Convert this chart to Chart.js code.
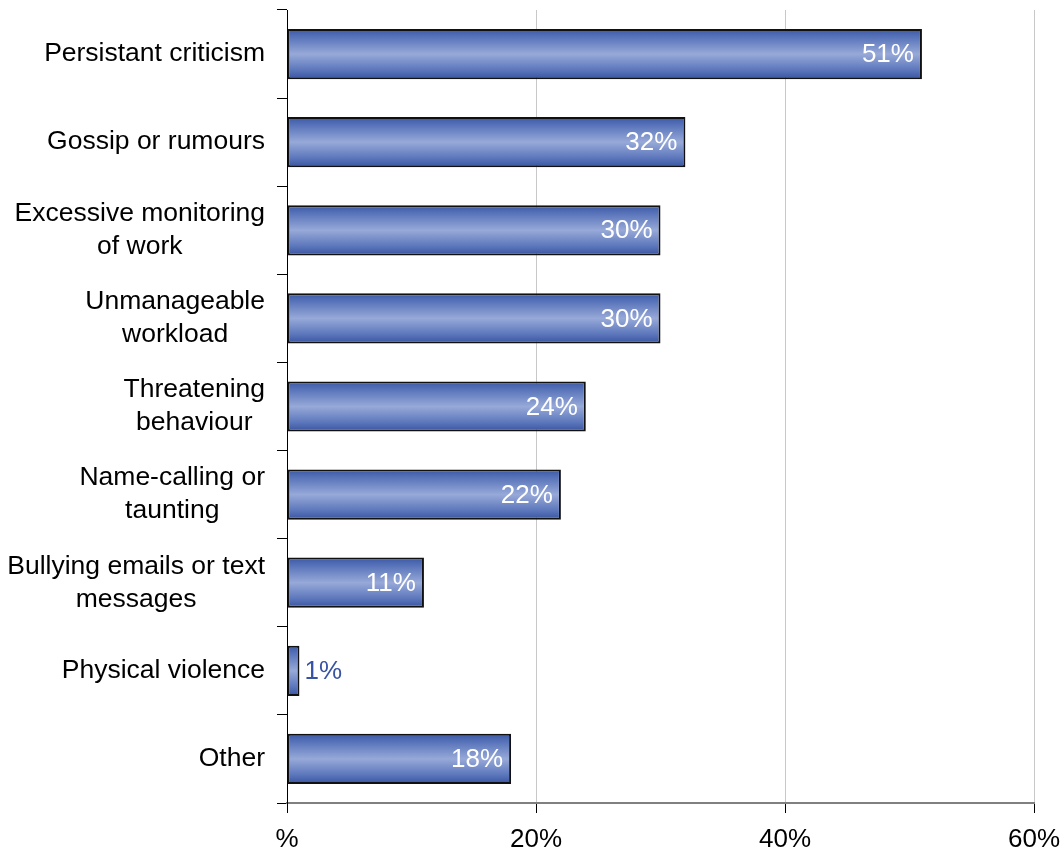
<!DOCTYPE html>
<html>
<head>
<meta charset="utf-8">
<script src="https://cdn.jsdelivr.net/npm/chart.js@4/dist/chart.umd.min.js"></script>
<style>
  html, body { margin: 0; padding: 0; background: #fff; }
  #wrap { width: 1063px; height: 857px; position: relative; }
</style>
</head>
<body>
<div id="wrap"><canvas id="chart"></canvas></div>
<script>
// categories, top to bottom
var categories = [
    ['Persistant criticism'],
    ['Gossip or rumours'],
    ['Excessive monitoring', 'of work'],
    ['Unmanageable', 'workload'],
    ['Threatening', 'behaviour'],
    ['Name-calling or', 'taunting'],
    ['Bullying emails or text', 'messages'],
    ['Physical violence'],
    ['Other']
];
var percentages = [51, 32, 30, 30, 24, 22, 11, 1, 18];
var xTicks = [0, 20, 40, 60];

var FONT = '"Liberation Sans", Arial, sans-serif';
var BAR_PCT = 0.57;

// bar fill: dark at top and bottom edge, light through the middle
function barFill(context) {
    var chart = context.chart;
    var y = chart.scales.y;
    if (!y || context.dataIndex === undefined) return '#6f86c6';
    var band = Math.abs(y.getPixelForValue(1) - y.getPixelForValue(0));
    var h = band * BAR_PCT;
    var top = y.getPixelForValue(context.dataIndex) - h / 2;
    if (!Number.isFinite(top) || !Number.isFinite(h) || h <= 0) return '#6f86c6';
    var g = chart.ctx.createLinearGradient(0, top, 0, top + h);
    g.addColorStop(0, '#3b58a6');
    g.addColorStop(0.18, '#5b76bb');
    g.addColorStop(0.5, '#97a9d8');
    g.addColorStop(0.82, '#5b76bb');
    g.addColorStop(1, '#38549f');
    return g;
}

// value labels: inside the bar end, or outside when the bar is too short
var valueLabels = {
    id: 'valueLabels',
    afterDatasetsDraw(chart) {
        var ctx = chart.ctx;
        ctx.save();
        ctx.font = '26px ' + FONT;
        ctx.textBaseline = 'middle';
        chart.getDatasetMeta(0).data.forEach((bar, i) => {
            var text = percentages[i] + '%';
            var w = ctx.measureText(text).width;
            if (bar.x - bar.base > w + 14) {
                ctx.fillStyle = '#ffffff';
                ctx.textAlign = 'right';
                ctx.fillText(text, bar.x - 8, bar.y + 1);
            } else {
                ctx.fillStyle = '#3953a4';
                ctx.textAlign = 'left';
                ctx.fillText(text, bar.x + 5, bar.y + 1);
            }
        });
        ctx.restore();
    }
};

// category names: block right-aligned to the axis, lines centred within it
var categoryLabels = {
    id: 'categoryLabels',
    afterDraw(chart) {
        var ctx = chart.ctx;
        var y = chart.scales.y;
        var lineH = 33;
        ctx.save();
        ctx.font = '26.5px ' + FONT;
        ctx.fillStyle = '#000';
        ctx.textAlign = 'center';
        ctx.textBaseline = 'middle';
        categories.forEach((lines, i) => {
            var widest = Math.max(...lines.map(l => ctx.measureText(l).width));
            var cx = y.right - 22 - widest / 2;
            var cy = y.getPixelForValue(i) - (lines.length - 1) * lineH / 2;
            lines.forEach((l, k) => ctx.fillText(l, cx, cy + k * lineH));
        });
        ctx.restore();
    }
};

var chart = new Chart(document.getElementById('chart'), {
    type: 'bar',
    data: {
        labels: categories.map(c => c.join(' ')),
        datasets: [{
            data: percentages,
            backgroundColor: barFill,
            borderColor: '#111',
            borderWidth: 2,
            borderSkipped: false,
            barPercentage: BAR_PCT,
            categoryPercentage: 1
        }]
    },
    options: {
        indexAxis: 'y',
        responsive: true,
        maintainAspectRatio: false,
        animation: false,
        layout: { padding: { top: 10, right: 29, bottom: 0, left: 0 } },
        plugins: {
            legend: { display: false },
            tooltip: { enabled: false }
        },
        scales: {
            x: {
                min: 0,
                max: 60,
                afterBuildTicks: s => { s.ticks = xTicks.map(v => ({ value: v })); },
                afterFit: s => {
                    s.height = 54;
                    s.paddingLeft = 0;
                    s.paddingRight = 0;
                },
                ticks: {
                    callback: v => v === 0 ? '%' : v + '%',
                    color: '#000',
                    font: { family: FONT, size: 26 },
                    padding: 11,
                    maxRotation: 0
                },
                grid: {
                    color: '#c8c8c8',
                    lineWidth: 1,
                    tickColor: '#000',
                    tickLength: 10
                },
                border: { color: '#808080', width: 2 }
            },
            y: {
                ticks: { display: false },
                grid: {
                    offset: true,
                    drawOnChartArea: false,
                    color: '#000',
                    tickLength: 10
                },
                border: { color: '#000', width: 1 },
                afterFit: s => { s.width = 287; }
            }
        }
    },
    plugins: [valueLabels, categoryLabels]
});
</script>
</body>
</html>
